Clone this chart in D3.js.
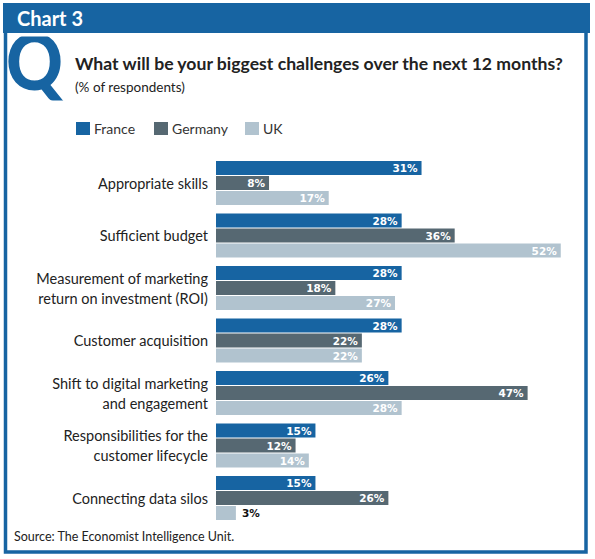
<!DOCTYPE html>
<html><head><meta charset="utf-8">
<script src="https://cdn.jsdelivr.net/npm/d3@7"></script>
<style>body{margin:0;background:#fff}</style>
</head><body>
<svg id="c" width="595" height="559"></svg>
<script>
const categories = [
  ["Appropriate skills"],
  ["Sufficient budget"],
  ["Measurement of marketing", "return on investment (ROI)"],
  ["Customer acquisition"],
  ["Shift to digital marketing", "and engagement"],
  ["Responsibilities for the", "customer lifecycle"],
  ["Connecting data silos"]
];
const seriesNames = ["France", "Germany", "UK"];
const france  = [31, 28, 28, 28, 26, 15, 15];
const germany = [8, 36, 18, 22, 47, 12, 26];
const uk      = [17, 52, 27, 22, 28, 14, 3];
const colors = ["#1764a2", "#566872", "#b1c3cf"];
const blue = "#1764a2";

const values = [france, germany, uk];
const keys = categories.map(c => c.join(" "));
const svg = d3.select("#c");

// frame
svg.append("rect").attr("x",3).attr("y",3).attr("width",587).attr("height",30).attr("fill",blue);
svg.append("path").attr("d","M5.5,33 V552 H586 V33").attr("fill","none").attr("stroke",blue).attr("stroke-width",3.5);
svg.append("text").attr("x",17).attr("y",26).text("Chart 3")
  .attr("font-family","Lato").attr("font-weight","bold").attr("font-size",20).attr("fill","#fff");

// Q
svg.append("clipPath").attr("id","qc").append("rect").attr("x",0).attr("y",36.5).attr("width",74).attr("height",64);
svg.append("g").attr("clip-path","url(#qc)").append("text")
  .attr("transform","translate(6,90) scale(0.9,1)")
  .attr("font-family","Lato").attr("font-weight",900).attr("font-size",78).attr("fill",blue).text("Q");

svg.append("text").attr("x",75).attr("y",70).text("What will be your biggest challenges over the next 12 months?")
  .attr("font-family","Lato").attr("font-weight","bold").attr("font-size",17.6).attr("fill","#222");
svg.append("text").attr("x",75).attr("y",92).text("(% of respondents)")
  .attr("font-family","Lato").attr("font-size",13.5).attr("fill","#222");

// legend
const legX = [76, 154, 245];
seriesNames.forEach((s,i)=>{
  svg.append("rect").attr("x",legX[i]).attr("y",122).attr("width",14).attr("height",13).attr("fill",colors[i]);
  svg.append("text").attr("x",legX[i]+18).attr("y",134).text(s)
    .attr("font-family","Lato").attr("font-size",14).attr("fill","#333");
});

const y = d3.scaleBand().domain(keys).range([161, 521]).paddingInner(7.5/52.5).paddingOuter(0);
const ys = d3.scaleBand().domain(seriesNames).range([0, 45]);
const x = d3.scaleLinear().domain([0, 52]).range([216, 216 + 52*6.63]);

const g = svg.append("g");
categories.forEach((cat, ci) => {
  const gy = y(keys[ci]);
  const mid = gy + y.bandwidth()/2;
  const t = g.append("text").attr("text-anchor","end").attr("font-family","Lato").attr("font-size",14.5).attr("fill","#222");
  const n = cat.length;
  cat.forEach((line, li) => {
    t.append("tspan").attr("x",208).attr("y", mid + 5 + (li - (n-1)/2)*20).text(line);
  });
  seriesNames.forEach((s, si) => {
    const v = values[si][ci];
    const by = gy + ys(s);
    g.append("rect").attr("x", x(0)).attr("y", by).attr("width", x(v)-x(0)).attr("height", ys.bandwidth()-1)
      .attr("fill", colors[si]);
    const inside = v >= 5;
    g.append("text")
      .attr("x", inside ? x(v) - 4 : x(v) + 6)
      .attr("y", by + ys.bandwidth()/2 + 3.5)
      .attr("text-anchor", inside ? "end" : "start")
      .attr("font-family","DejaVu Sans").attr("font-weight","bold").attr("font-size",10.5)
      .attr("fill", inside ? "#fff" : "#111")
      .text(v + "%");
  });
});

svg.append("text").attr("x",14).attr("y",541).text("Source: The Economist Intelligence Unit.")
  .attr("font-family","Lato").attr("font-size",12.5).attr("fill","#222");
</script>
</body></html>
